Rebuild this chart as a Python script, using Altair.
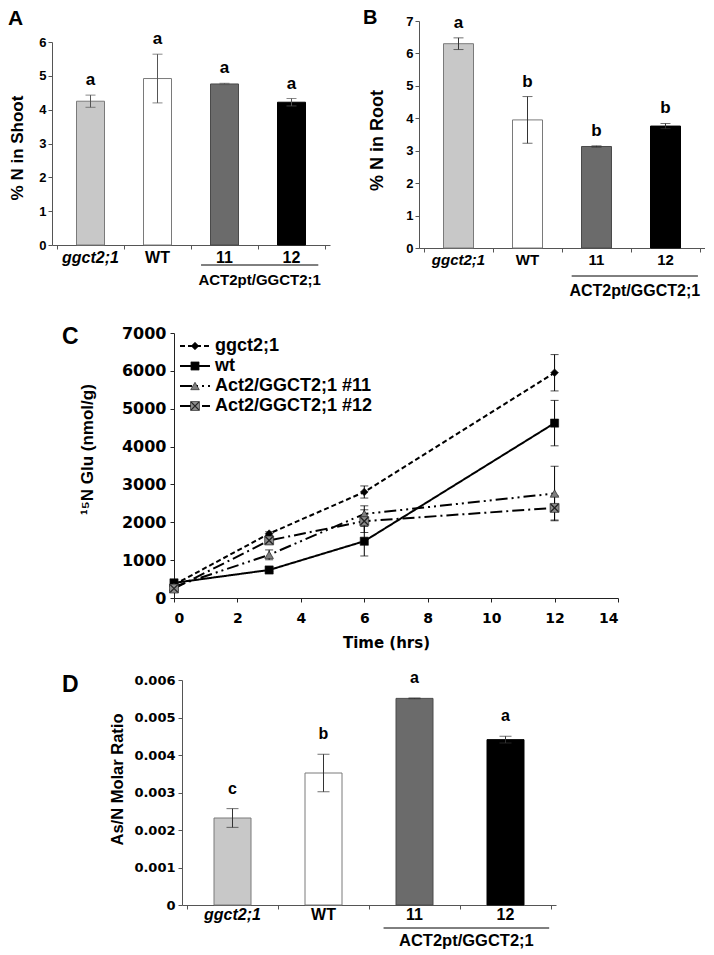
import altair as alt
import pandas as pd

# ---------------- data ----------------
cats = ["ggct2;1", "WT", "11", "12"]
bar_fills = ["#c8c8c8", "#ffffff", "#6b6b6b", "#000000"]
bar_strokes = ["#7a7a7a", "#7a7a7a", "#4a4a4a", "#000000"]

shoot_mean = [4.25, 4.92, 4.76, 4.22]
shoot_err = [0.18, 0.72, 0.02, 0.11]
shoot_sig = ["a", "a", "a", "a"]

root_mean = [6.30, 3.95, 3.13, 3.76]
root_err = [0.18, 0.72, 0.02, 0.08]
root_sig = ["a", "b", "b", "b"]

ratio_mean = [0.00232, 0.00352, 0.00551, 0.00441]
ratio_err = [0.00025, 0.00050, 0.00001, 0.00009]
ratio_sig = ["c", "b", "a", "a"]

group_label = "ACT2pt/GGCT2;1"
group_members = ["11", "12"]

time_hrs = [0, 3, 6, 12]
series = ["ggct2;1", "wt", "Act2/GGCT2;1 #11", "Act2/GGCT2;1 #12"]
glu_ggct = [350, 1700, 2800, 5950]
glu_ggct_err = [40, 50, 160, 480]
glu_wt = [400, 740, 1500, 4620]
glu_wt_err = [30, 40, 390, 600]
glu_11 = [300, 1140, 2220, 2760]
glu_11_err = [30, 130, 215, 720]
glu_12 = [250, 1520, 2030, 2380]
glu_12_err = [30, 100, 300, 320]

AR = "Liberation Sans, Arial, sans-serif"
DV = "DejaVu Sans, sans-serif"
XPATH = "M-1,-1L1,1M-1,1L1,-1"

# whole-figure drawing area (one layered chart, every panel on its own scales)
FIG_W, FIG_H = 653, 884


def bar_panel(p):
    n = len(cats)
    df = pd.DataFrame({
        "cat": cats,
        "pos": [i + 0.5 for i in range(n)],
        "mean": p["mean"],
        "lo": [m - e for m, e in zip(p["mean"], p["err"])],
        "hi": [m + e for m, e in zip(p["mean"], p["err"])],
        "sig": p["sig"],
    })
    x0, x1, yt, yb = p["x0"], p["x1"], p["yt"], p["yb"]
    xs = alt.Scale(domain=[0, n], range=[x0, x1], nice=False, zero=False)
    xaxis = alt.Axis(orient="bottom", offset=yb - FIG_H, values=list(range(n + 1)), labels=False,
                     title=None, tickSize=4, grid=False, domainColor="#555", tickColor="#555")
    ys = alt.Scale(domain=[0, p["ymax"]], range=[yb, yt], nice=False)
    ak = dict(orient="left", offset=-x0, values=p["yticks"], title=p["title"],
              titleX=p["tx"], titleY=p["ty"],
              titleAngle=270, titleAlign="center", titleBaseline="middle",
              titleFont=AR, titleFontSize=p["tsize"], titleFontWeight="bold",
              titleColor="black", labelFont=p["lfont"], labelFontSize=p["lsize"],
              labelFontWeight="bold", labelColor="black", labelPadding=p["lpad"],
              tickSize=4, grid=False, domainColor="#555", tickColor="#555")
    if p.get("labelExpr"):
        ak["labelExpr"] = p["labelExpr"]
    yaxis = alt.Axis(**ak)
    X = alt.X("pos:Q", scale=xs, axis=xaxis)

    def Y(f):
        return alt.Y(f, scale=ys, axis=yaxis)

    base = alt.Chart(df)
    bars = base.mark_bar(size=p["bw"], strokeWidth=1, orient="vertical").encode(
        x=X, y=Y("mean:Q"),
        fill=alt.Fill("cat:N", scale=alt.Scale(domain=cats, range=bar_fills), legend=None),
        stroke=alt.Stroke("cat:N", scale=alt.Scale(domain=cats, range=bar_strokes), legend=None),
    )
    err = base.mark_rule(color=p["ec"], strokeWidth=1).encode(x=X, y=Y("lo:Q"), y2="hi:Q")
    cap_hi = base.mark_tick(orient="horizontal", size=p["cap"], thickness=1, color=p["ec"]).encode(x=X, y=Y("hi:Q"))
    cap_lo = base.mark_tick(orient="horizontal", size=p["cap"], thickness=1, color=p["ec"]).encode(x=X, y=Y("lo:Q"))
    sig = base.mark_text(font=AR, fontSize=p["sigsize"], fontWeight="bold", baseline="alphabetic",
                         dy=p["sigdy"], color="black").encode(x=X, y=Y("hi:Q"), text="sig:N")
    lab_it = base.transform_filter(alt.datum.cat == cats[0]).mark_text(
        font=AR, fontSize=p["labsize"], fontWeight="bold", fontStyle="italic",
        baseline="middle", color="black").encode(x=X, y=alt.value(yb + p["labdy"]), text="cat:N")
    lab = base.transform_filter(alt.datum.cat != cats[0]).mark_text(
        font=AR, fontSize=p["labsize"], fontWeight="bold",
        baseline="middle", color="black").encode(x=X, y=alt.value(yb + p["labdy"]), text="cat:N")
    g0 = cats.index(group_members[0]) + p["gin0"]
    g1 = cats.index(group_members[-1]) + 1 - p["gin1"]
    gdf = pd.DataFrame({"x1": [g0], "x2": [g1], "xm": [(g0 + g1) / 2], "label": [group_label]})
    gbase = alt.Chart(gdf)
    gline = gbase.mark_rule(color="black", strokeWidth=1).encode(
        x=alt.X("x1:Q", scale=xs, axis=xaxis), x2="x2:Q", y=alt.value(yb + p["linedy"]))
    gtext = gbase.mark_text(font=AR, fontSize=p["grpsize"], fontWeight="bold",
                            baseline="middle", color="black").encode(
        x=alt.X("xm:Q", scale=xs, axis=xaxis), y=alt.value(yb + p["grpdy"]), text="label:N")
    letter = alt.Chart(pd.DataFrame({"t": [p["letter"]]})).mark_text(
        font=AR, fontSize=p["letsize"], fontWeight="bold", align="left", baseline="top",
        color="black").encode(text="t:N", x=alt.value(p["letx"]), y=alt.value(p["lety"]))
    return alt.layer(bars, err, cap_hi, cap_lo, sig, lab_it, lab, gline, gtext, letter)


panelA = bar_panel(dict(
    mean=shoot_mean, err=shoot_err, sig=shoot_sig, x0=0, x1=278, yt=21, yb=224,
    ymax=6, yticks=list(range(7)),
    title="% N in Shoot", tx=-35, ty=126.5, tsize=17, lfont=AR, lsize=13, lpad=2,
    bw=28, cap=10, ec="#555", sigsize=17, sigdy=-10, labsize=16, labdy=13, linedy=20,
    grpsize=15, grpdy=35, gin0=0.15, gin1=0.1, letter="A", letx=-44, lety=-13, letsize=21))

panelB = bar_panel(dict(
    mean=root_mean, err=root_err, sig=root_sig, x0=367, x1=653, yt=0, yb=227,
    ymax=7, yticks=list(range(8)),
    title="% N in Root", tx=-42, ty=119, tsize=18, lfont=AR, lsize=13, lpad=2,
    bw=30, cap=10, ec="#333", sigsize=17, sigdy=-10, labsize=15, labdy=12, linedy=28,
    grpsize=16, grpdy=43, gin0=0.14, gin1=0.03, letter="B", letx=311, lety=-13, letsize=20))

panelD = bar_panel(dict(
    mean=ratio_mean, err=ratio_err, sig=ratio_sig, x0=130, x1=504, yt=659, yb=884,
    ymax=0.006, yticks=[i / 1000 for i in range(7)],
    labelExpr="datum.value == 0 ? '0' : format(datum.value, '.3f')",
    title="As/N Molar  Ratio", tx=-64.5, ty=758, tsize=16.5, lfont=DV, lsize=13, lpad=3,
    bw=37, cap=12, ec="#333", sigsize=16, sigdy=-15, labsize=16, labdy=10, linedy=23,
    grpsize=16.5, grpdy=36, gin0=0.16, gin1=0.02, letter="D", letx=10, lety=653, letsize=23))

# ---------------- panel C ----------------
C_X0, C_X1, C_YT, C_YB = 122, 566, 312, 577

rows = []
for s, vals, errs in zip(series, [glu_ggct, glu_wt, glu_11, glu_12],
                         [glu_ggct_err, glu_wt_err, glu_11_err, glu_12_err]):
    for t, v, e in zip(time_hrs, vals, errs):
        rows.append(dict(series=s, t=t, v=v, lo=v - e, hi=v + e))
cdf = pd.DataFrame(rows)

dash_scale = alt.Scale(domain=series, range=[[5, 3], [1, 0], [12, 4, 2, 4, 2, 4], [12, 4, 2, 4]])
shape_scale = alt.Scale(domain=series, range=["diamond", "square", "triangle-up", "square"])
fill_scale = alt.Scale(domain=series, range=["#000000", "#000000", "#7f7f7f", "#8c8c8c"])
size_scale = alt.Scale(domain=series, range=[60, 80, 40, 105])

cxs = alt.Scale(domain=[0, 14], range=[C_X0, C_X1], nice=False)
cxaxis = alt.Axis(orient="bottom", offset=C_YB - FIG_H, values=list(range(0, 15, 2)),
                  title="Time (hrs)", titleX=334, titleY=44,
                  titleBaseline="middle", titleFont=DV, titleFontSize=15, titleFontWeight="bold",
                  titleColor="black", labelFont=DV, labelFontSize=14, labelFontWeight="bold",
                  labelColor="black", labelPadding=9, tickSize=4, grid=False,
                  domainColor="#222", tickColor="#222")
cys = alt.Scale(domain=[0, 7000], range=[C_YB, C_YT], nice=False)
cyaxis = alt.Axis(orient="left", offset=-C_X0, values=list(range(0, 7001, 1000)), format="d",
                  title="¹⁵N Glu (nmol/g)", titleX=-86.5,
                  titleY=428, titleAngle=270, titleAlign="center", titleBaseline="middle",
                  titleFont=AR, titleFontSize=17, titleFontWeight="bold", titleColor="black",
                  labelFont=DV, labelFontSize=16, labelFontWeight="bold", labelColor="black",
                  labelPadding=4, tickSize=4, grid=False, domainColor="#222", tickColor="#222")
CX = alt.X("t:Q", scale=cxs, axis=cxaxis)


def CY(f):
    return alt.Y(f, scale=cys, axis=cyaxis)


cb = alt.Chart(cdf)
c_lines = cb.mark_line(strokeWidth=2, color="black").encode(
    x=CX, y=CY("v:Q"), strokeDash=alt.StrokeDash("series:N", scale=dash_scale, legend=None))
c_err = cb.mark_rule(color="black", strokeWidth=1).encode(x=CX, y=CY("lo:Q"), y2="hi:Q")
c_cap_hi = cb.mark_tick(orient="horizontal", size=8, thickness=1, color="black").encode(x=CX, y=CY("hi:Q"))
c_cap_lo = cb.mark_tick(orient="horizontal", size=8, thickness=1, color="black").encode(x=CX, y=CY("lo:Q"))
c_pts = cb.mark_point(filled=True, opacity=1, stroke="#111", strokeWidth=0.6).encode(
    x=CX, y=CY("v:Q"),
    shape=alt.Shape("series:N", scale=shape_scale, legend=None),
    color=alt.Color("series:N", scale=fill_scale, legend=None),
    size=alt.Size("series:N", scale=size_scale, legend=None))
c_cross = cb.transform_filter(alt.datum.series == series[3]).mark_point(
    shape=XPATH, filled=False, color="#222", strokeWidth=1.3, size=60, opacity=1).encode(x=CX, y=CY("v:Q"))
c_letter = alt.Chart(pd.DataFrame({"t": ["C"]})).mark_text(
    font=AR, fontSize=23, fontWeight="bold", align="left", baseline="top", color="black").encode(
    text="t:N", x=alt.value(10), y=alt.value(305))

# legend rows: point scale with default outer padding 0.5 -> rows at 20px steps
ldf = pd.DataFrame({"series": series})
lb = alt.Chart(ldf)
LY = alt.Y("series:N", sort=series,
           scale=alt.Scale(domain=series, range=[C_YT + 3, C_YT + 83]), axis=None)
l_rule = lb.mark_rule(strokeWidth=2, color="black").encode(
    x=alt.value(C_X0 + 6), x2=alt.value(C_X0 + 36), y=LY,
    strokeDash=alt.StrokeDash("series:N", scale=dash_scale, legend=None))
l_pts = lb.mark_point(filled=True, opacity=1, stroke="#111", strokeWidth=0.6).encode(
    x=alt.value(C_X0 + 21), y=LY,
    shape=alt.Shape("series:N", scale=shape_scale, legend=None),
    color=alt.Color("series:N", scale=fill_scale, legend=None),
    size=alt.Size("series:N", scale=size_scale, legend=None))
l_cross = lb.transform_filter(alt.datum.series == series[3]).mark_point(
    shape=XPATH, filled=False, color="#222", strokeWidth=1.3, size=60, opacity=1).encode(
    x=alt.value(C_X0 + 21), y=LY)
l_text = lb.mark_text(font=AR, fontSize=18, fontWeight="bold", align="left", baseline="middle",
                      color="black").encode(x=alt.value(C_X0 + 41), y=LY, text="series:N")

panelC = alt.layer(
    alt.layer(c_lines, c_err, c_cap_hi, c_cap_lo, c_pts, c_cross, c_letter),
    alt.layer(l_rule, l_pts, l_cross, l_text),
).resolve_scale(y="independent")

# ---------------- figure ----------------
chart = alt.layer(panelA, panelB, panelC, panelD).resolve_scale(
    x="independent", y="independent"
).properties(width=FIG_W, height=FIG_H, padding=0).configure_view(strokeWidth=0)

chart.save("out.html", embed_options={"renderer": "svg", "actions": False})
